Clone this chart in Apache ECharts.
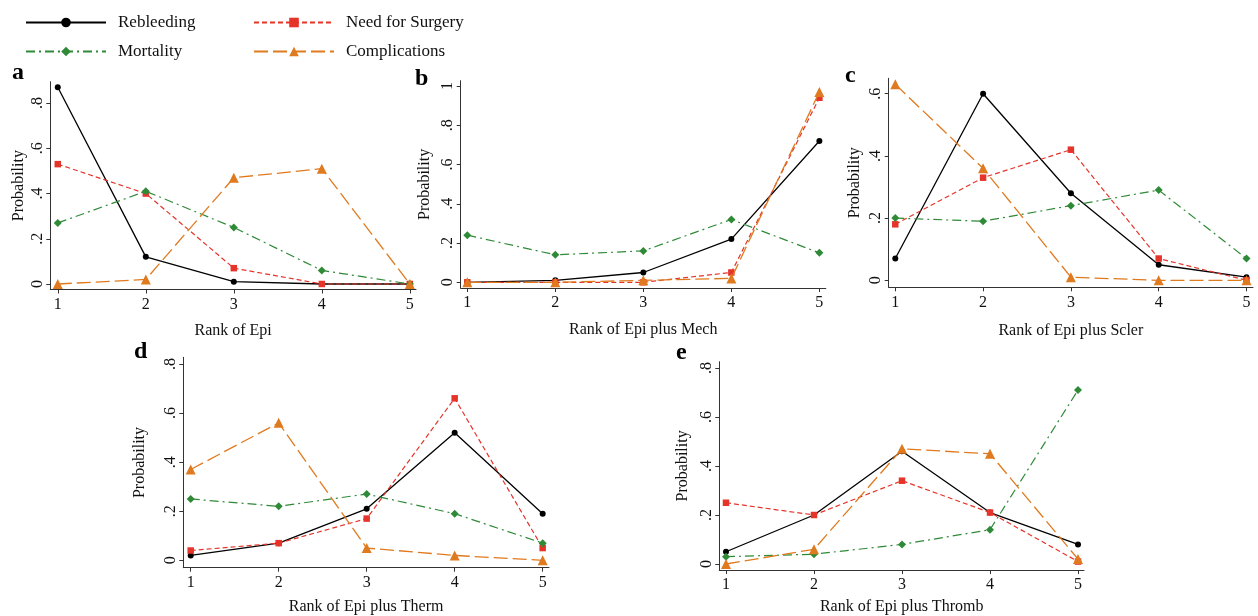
<!DOCTYPE html>
<html>
<head>
<meta charset="utf-8">
<script src="https://cdn.jsdelivr.net/npm/echarts@6/dist/echarts.min.js"></script>
<style>
html,body{margin:0;padding:0;background:#fff;}
#chart{width:1258px;height:616px;}
</style>
</head>
<body>
<div id="chart"></div>
<script>
// ---------- data ----------
const ranks = [1, 2, 3, 4, 5];
const seriesNames = ['Rebleeding', 'Need for Surgery', 'Mortality', 'Complications'];
const panelLetters = ['a', 'b', 'c', 'd', 'e'];
const xTitles = ['Rank of Epi', 'Rank of Epi plus Mech', 'Rank of Epi plus Scler', 'Rank of Epi plus Therm', 'Rank of Epi plus Thromb'];
const yTitle = 'Probability';

const aRebleeding = [0.87, 0.12, 0.01, 0.00, 0.00];
const aSurgery    = [0.53, 0.40, 0.07, 0.00, 0.00];
const aMortality  = [0.27, 0.41, 0.25, 0.06, 0.00];
const aComplic    = [0.00, 0.02, 0.47, 0.51, 0.00];

const bRebleeding = [0.00, 0.01, 0.05, 0.22, 0.72];
const bSurgery    = [0.00, 0.00, 0.00, 0.05, 0.94];
const bMortality  = [0.24, 0.14, 0.16, 0.32, 0.15];
const bComplic    = [0.00, 0.00, 0.01, 0.02, 0.97];

const cRebleeding = [0.07, 0.60, 0.28, 0.05, 0.01];
const cSurgery    = [0.18, 0.33, 0.42, 0.07, 0.00];
const cMortality  = [0.20, 0.19, 0.24, 0.29, 0.07];
const cComplic    = [0.63, 0.36, 0.01, 0.00, 0.00];

const dRebleeding = [0.02, 0.07, 0.21, 0.52, 0.19];
const dSurgery    = [0.04, 0.07, 0.17, 0.66, 0.05];
const dMortality  = [0.25, 0.22, 0.27, 0.19, 0.07];
const dComplic    = [0.37, 0.56, 0.05, 0.02, 0.00];

const eRebleeding = [0.05, 0.20, 0.46, 0.21, 0.08];
const eSurgery    = [0.25, 0.20, 0.34, 0.21, 0.01];
const eMortality  = [0.03, 0.04, 0.08, 0.14, 0.71];
const eComplic    = [0.00, 0.06, 0.47, 0.45, 0.02];

const yTicksA = [0, 0.2, 0.4, 0.6, 0.8];
const yTicksB = [0, 0.2, 0.4, 0.6, 0.8, 1];
const yTicksC = [0, 0.2, 0.4, 0.6];
const yTicksD = [0, 0.2, 0.4, 0.6, 0.8];
const yTicksE = [0, 0.2, 0.4, 0.6, 0.8];

// ---------- layout / style ----------
const panelValues = [
  [aRebleeding, aSurgery, aMortality, aComplic],
  [bRebleeding, bSurgery, bMortality, bComplic],
  [cRebleeding, cSurgery, cMortality, cComplic],
  [dRebleeding, dSurgery, dMortality, dComplic],
  [eRebleeding, eSurgery, eMortality, eComplic]
];
const panelYTicks = [yTicksA, yTicksB, yTicksC, yTicksD, yTicksE];
const layout = [
  {left: 50.3, top: 81.7, width: 365.7, height: 207.8, xmin: 0.915, xmax: 5.07, ymin: -0.0244, ymax: 0.8946, yGap: 24, xGap: 33, lx: 20, ly: 75},
  {left: 460.7, top: 80.7, width: 365.1, height: 207.3, xmin: 0.925, xmax: 5.073, ymin: -0.029, ymax: 1.027, yGap: 27.7, xGap: 34, lx: 423, ly: 81},
  {left: 888.7, top: 78.3, width: 364.3, height: 209, xmin: 0.925, xmax: 5.074, ymin: -0.0225, ymax: 0.6495, yGap: 25.7, xGap: 35, lx: 853, ly: 78},
  {left: 183.3, top: 357.3, width: 365.7, height: 210.4, xmin: 0.916, xmax: 5.072, ymin: -0.030, ymax: 0.827, yGap: 36, xGap: 31, lx: 142, ly: 354},
  {left: 719.3, top: 361.7, width: 364.7, height: 208.3, xmin: 0.924, xmax: 5.068, ymin: -0.0245, ymax: 0.8257, yGap: 29, xGap: 29, lx: 684, ly: 355}
];
const FONT = '"Liberation Serif", "Times New Roman", serif';
const styles = [
  {color: '#000000', symbol: 'circle', size: 6, type: 'solid', width: 1.3},
  {color: '#e5342a', symbol: 'rect', size: 6.5, type: [5, 3], width: 1.2},
  {color: '#2f8a38', symbol: 'diamond', size: 8, type: [9, 4, 2, 4], width: 1.2},
  {color: '#e07a1f', symbol: 'triangle', size: 10, type: [14, 5], width: 1.3}
];
const axisColor = '#333';

function fmt(v) {
  if (v === 0) return '0';
  if (v === 1) return '1';
  return String(+v.toFixed(2)).replace(/^0/, '');
}

const grids = [], xAxes = [], yAxes = [], series = [], graphics = [];
layout.forEach((L, i) => {
  grids.push({left: L.left, top: L.top, width: L.width, height: L.height, containLabel: false});
  xAxes.push({
    type: 'value', gridIndex: i, min: L.xmin, max: L.xmax,
    name: xTitles[i], nameLocation: 'middle', nameGap: L.xGap,
    nameTextStyle: {fontFamily: FONT, fontSize: 16, color: '#111'},
    axisLine: {show: true, onZero: false, lineStyle: {color: axisColor, width: 1}},
    axisTick: {show: true, length: 4, customValues: ranks, lineStyle: {color: axisColor}},
    axisLabel: {customValues: ranks, margin: 7, fontFamily: FONT, fontSize: 16, color: '#111', formatter: v => String(v)},
    splitLine: {show: false}
  });
  yAxes.push({
    type: 'value', gridIndex: i, min: L.ymin, max: L.ymax,
    name: yTitle, nameLocation: 'middle', nameGap: L.yGap, nameRotate: 90,
    nameTextStyle: {fontFamily: FONT, fontSize: 16, color: '#111'},
    axisLine: {show: true, onZero: false, lineStyle: {color: axisColor, width: 1}},
    axisTick: {show: true, length: 4, customValues: panelYTicks[i], lineStyle: {color: axisColor}},
    axisLabel: {customValues: panelYTicks[i], rotate: 90, margin: 5, fontFamily: FONT, fontSize: 16, color: '#111', formatter: fmt},
    splitLine: {show: false}
  });
  panelValues[i].forEach((vals, k) => {
    const s = styles[k];
    series.push({
      name: seriesNames[k], type: 'line', xAxisIndex: i, yAxisIndex: i,
      data: ranks.map((r, j) => [r, vals[j]]),
      symbol: s.symbol, symbolSize: s.size, showSymbol: true, clip: false,
      itemStyle: {color: s.color},
      lineStyle: {color: s.color, width: s.width, type: s.type},
      emphasis: {disabled: true}, animation: false, z: 2 + k
    });
  });
  graphics.push({
    type: 'text', left: L.lx - 8, top: L.ly - 14,
    style: {text: panelLetters[i], font: 'bold 24px ' + FONT, fill: '#000'}
  });
});

const legendPos = [
  {name: 'Rebleeding', left: 25, top: 14},
  {name: 'Need for Surgery', left: 253, top: 14},
  {name: 'Mortality', left: 25, top: 43},
  {name: 'Complications', left: 253, top: 43}
];
const legends = legendPos.map(p => ({
  data: [p.name], left: p.left, top: p.top, padding: 0,
  itemWidth: 80, itemHeight: 12, selectedMode: false,
  textStyle: {fontFamily: FONT, fontSize: 17, color: '#111', padding: [0, 0, 0, 7]}
}));

const chart = echarts.init(document.getElementById('chart'), null, {renderer: 'canvas'});
chart.setOption({
  backgroundColor: '#ffffff',
  animation: false,
  grid: grids, xAxis: xAxes, yAxis: yAxes, series: series,
  legend: legends,
  graphic: graphics
});
</script>
</body>
</html>
